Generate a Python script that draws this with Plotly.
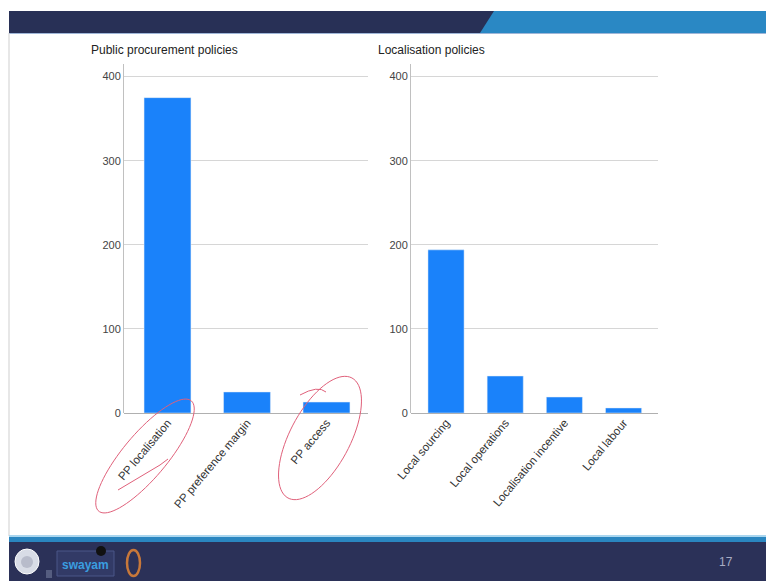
import numpy as np
import plotly.graph_objects as go

W, H = 766, 581

# ---- data ----
pp_categories = ["PP localisation", "PP preference margin", "PP access"]
pp_values = [375, 25, 13]
loc_categories = ["Local sourcing", "Local operations", "Localisation incentive", "Local labour"]
loc_values = [194, 44, 19, 6]
y_ticks = [0, 100, 200, 300, 400]

BAR = "#1a82fa"
GRID = "#d6d6d6"
TXT = "#444444"

def X(px):
    return px / W

def Y(py):
    return 1 - py / H

fig = go.Figure()
fig.add_trace(go.Bar(x=list(range(len(pp_categories))), y=pp_values, marker_color=BAR,
                     width=0.59, xaxis="x", yaxis="y", showlegend=False))
fig.add_trace(go.Bar(x=list(range(len(loc_categories))), y=loc_values, marker_color=BAR,
                     width=0.61, xaxis="x2", yaxis="y2", showlegend=False))

ydom = [Y(413), Y(64)]
common_y = dict(range=[0, 415], tickvals=y_ticks, showgrid=True, gridcolor=GRID, gridwidth=1,
                zeroline=True, zerolinecolor="#b0b0b0", zerolinewidth=1,
                showline=True, linecolor="#c0c0c0", linewidth=1, automargin=False,
                tickfont=dict(family="Arial", size=11, color=TXT), ticks="", fixedrange=True)
common_x = dict(showgrid=False, zeroline=False, showline=False, ticks="", automargin=False,
                tickangle=-50, tickfont=dict(family="Arial", size=11.5, color="#333333"))

fig.update_layout(
    width=W, height=H,
    autosize=False,
    margin=dict(l=0, r=0, t=0, b=0, pad=0, autoexpand=False),
    paper_bgcolor="white", plot_bgcolor="white",
    bargap=0.4,
    xaxis=dict(domain=[X(124), X(368)], range=[-0.547, 2.522], anchor="y",
               tickvals=list(range(len(pp_categories))), ticktext=pp_categories, **common_x),
    yaxis=dict(domain=ydom, anchor="x", **common_y),
    xaxis2=dict(domain=[X(411), X(658)], range=[-0.592, 3.582], anchor="y2",
                tickvals=list(range(len(loc_categories))), ticktext=loc_categories, **common_x),
    yaxis2=dict(domain=ydom, anchor="x2", **common_y),
)

shapes = []
# header band
shapes.append(dict(type="rect", xref="paper", yref="paper", x0=X(9), x1=X(766), y0=Y(33), y1=Y(11),
                   fillcolor="#283056", line_width=0, layer="below"))
shapes.append(dict(type="path", xref="paper", yref="paper",
                   path=f"M {X(494)},{Y(11)} L {X(766)},{Y(11)} L {X(766)},{Y(33)} L {X(480)},{Y(33)} Z",
                   fillcolor="#2a88c4", line_width=0, layer="below"))
shapes.append(dict(type="line", xref="paper", yref="paper", x0=X(9), x1=X(766), y0=Y(33.5), y1=Y(33.5),
                   line=dict(color="#9fb6d8", width=1.2), layer="below"))
# left slide edge
shapes.append(dict(type="line", xref="paper", yref="paper", x0=X(9), x1=X(9), y0=Y(536), y1=Y(33),
                   line=dict(color="#cfcfcf", width=1), layer="below"))
# footer
shapes.append(dict(type="rect", xref="paper", yref="paper", x0=X(9), x1=X(766), y0=Y(537), y1=Y(535),
                   fillcolor="#a9d6ef", line_width=0, layer="below"))
shapes.append(dict(type="rect", xref="paper", yref="paper", x0=X(9), x1=X(766), y0=Y(542), y1=Y(537),
                   fillcolor="#2a86c0", line_width=0, layer="below"))
shapes.append(dict(type="rect", xref="paper", yref="paper", x0=X(9), x1=X(766), y0=Y(581), y1=Y(542),
                   fillcolor="#2b3158", line_width=0, layer="below"))
# footer logos (approximate)
shapes.append(dict(type="circle", xref="paper", yref="paper", x0=X(15), x1=X(39), y0=Y(574), y1=Y(549),
                   fillcolor="#d8dce6", line=dict(color="#ffffff", width=1)))
shapes.append(dict(type="circle", xref="paper", yref="paper", x0=X(21), x1=X(33), y0=Y(568), y1=Y(556),
                   fillcolor="#b8bccb", line_width=0))
shapes.append(dict(type="rect", xref="paper", yref="paper", x0=X(57), x1=X(114), y0=Y(576), y1=Y(551),
                   fillcolor="#323a66", line=dict(color="#4a5688", width=1)))
shapes.append(dict(type="rect", xref="paper", yref="paper", x0=X(46), x1=X(52), y0=Y(578), y1=Y(570),
                   fillcolor="#555d80", line_width=0))
shapes.append(dict(type="circle", xref="paper", yref="paper", x0=X(96), x1=X(106), y0=Y(556), y1=Y(546),
                   fillcolor="#111111", line_width=0))
shapes.append(dict(type="circle", xref="paper", yref="paper", x0=X(127), x1=X(140), y0=Y(576), y1=Y(550),
                   fillcolor="rgba(0,0,0,0)", line=dict(color="#c8783a", width=2.5)))

# hand-drawn red ellipses
def ellipse_path(cx, cy, a, b, ang_deg, n=80):
    t = np.linspace(0, 2 * np.pi, n)
    ang = np.deg2rad(ang_deg)
    xs = cx + a * np.cos(t) * np.cos(ang) - b * np.sin(t) * np.sin(ang)
    ys = cy + a * np.cos(t) * np.sin(ang) + b * np.sin(t) * np.cos(ang)
    pts = [f"{X(x):.5f},{Y(y):.5f}" for x, y in zip(xs, ys)]
    return "M " + " L ".join(pts)

INK = "#e0607a"
shapes.append(dict(type="path", xref="paper", yref="paper",
                   path=ellipse_path(145, 456, 72, 22, -50), line=dict(color=INK, width=1)))
shapes.append(dict(type="path", xref="paper", yref="paper",
                   path=f"M {X(118)},{Y(490)} L {X(160)},{Y(465)} L {X(168)},{Y(459)}",
                   line=dict(color=INK, width=1)))
shapes.append(dict(type="path", xref="paper", yref="paper",
                   path=ellipse_path(320, 438, 68, 30, -62), line=dict(color=INK, width=1)))
shapes.append(dict(type="path", xref="paper", yref="paper",
                   path=f"M {X(300)},{Y(395)} Q {X(318)},{Y(385)} {X(326)},{Y(392)}",
                   line=dict(color=INK, width=1)))
fig.update_layout(shapes=shapes)

annotations = [
    dict(text="Public procurement policies", x=X(89), y=Y(50), xref="paper", yref="paper",
         xanchor="left", yanchor="middle", showarrow=False,
         font=dict(family="Arial", size=12, color="#222222")),
    dict(text="Localisation policies", x=X(376), y=Y(50), xref="paper", yref="paper",
         xanchor="left", yanchor="middle", showarrow=False,
         font=dict(family="Arial", size=12, color="#222222")),
    dict(text="17", x=X(726), y=Y(562), xref="paper", yref="paper",
         xanchor="center", yanchor="middle", showarrow=False,
         font=dict(family="Arial", size=12, color="#a8acc4")),
    dict(text="<b>swayam</b>", x=X(85), y=Y(565), xref="paper", yref="paper",
         xanchor="center", yanchor="middle", showarrow=False,
         font=dict(family="Arial", size=12, color="#3a9ee0")),
]
fig.update_layout(annotations=annotations)

fig.write_html("out.html")
